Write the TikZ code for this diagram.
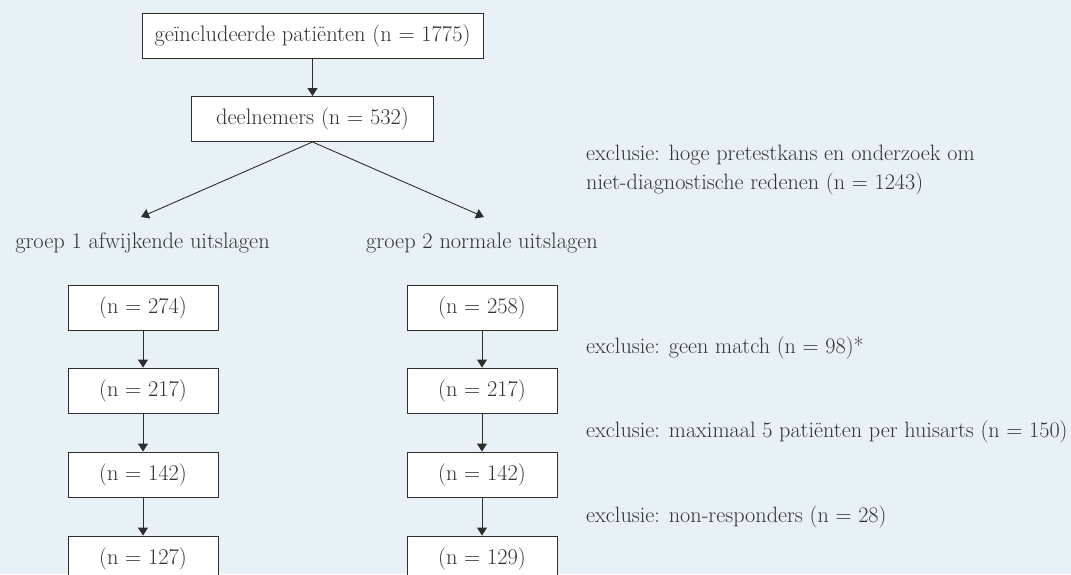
\documentclass[tikz,border=0pt]{standalone}
\usetikzlibrary{arrows.meta}
\definecolor{bg}{HTML}{E8F1F5}
\definecolor{ink}{HTML}{2E2E2E}
\definecolor{txt}{HTML}{333333}
\tikzset{
  x=1pt,y=-1pt,
  box/.style={draw=ink,fill=white,line width=0.9pt,minimum height=45pt,inner sep=0pt,text=txt,font=\fontsize{22.4}{26}\selectfont},
  lbl/.style={anchor=base west,inner sep=0pt,text=txt,font=\fontsize{22.2}{26}\selectfont},
  clbl/.style={anchor=base,inner sep=0pt,text=txt,font=\fontsize{22.4}{26}\selectfont},
  arr/.style={draw=ink,line width=0.9pt,-{Triangle[length=8pt,width=10pt]}}
}
\begin{document}
\begin{tikzpicture}
\useasboundingbox (0,0) rectangle (1071,574);
\clip (0,0) rectangle (1071,574);
\fill[bg] (0,0) rectangle (1071,574);
\node[box,minimum width=341pt] (top) at (312.5,35.5) {geïncludeerde patiënten (n = 1775)};
\node[box,minimum width=242pt] (deel) at (312.5,119) {deelnemers (n = 532)};
\draw[arr] (top) -- (deel);
\coordinate (g1tip) at (141,217);
\coordinate (g2tip) at (484,217);
\draw[arr] (deel.south) -- (g1tip);
\draw[arr] (deel.south) -- (g2tip);
\node[clbl] (g1) at (142.5,248) {groep 1 afwijkende uitslagen};
\node[clbl] (g2) at (482,248) {groep 2 normale uitslagen};
\node[lbl] (ex1) at (586,160) {exclusie: hoge pretestkans en onderzoek om};
\node[lbl] (ex1b) at (586,189) {niet-diagnostische redenen (n = 1243)};
\node[lbl] (ex2) at (586,353) {exclusie: geen match (n = 98)*};
\node[lbl] (ex3) at (586,437) {exclusie: maximaal 5 patiënten per huisarts (n = 150)};
\node[lbl] (ex4) at (586,522) {exclusie: non-responders (n = 28)};
% left column
\node[box,minimum width=150pt] (a1) at (143,307.5) {(n = 274)};
\node[box,minimum width=150pt] (a2) at (143,390.5) {(n = 217)};
\node[box,minimum width=150pt] (a3) at (143,474.5) {(n = 142)};
\node[box,minimum width=150pt] (a4) at (143,558.5) {(n = 127)};
% right column
\node[box,minimum width=150pt] (b1) at (482,307.5) {(n = 258)};
\node[box,minimum width=150pt] (b2) at (482,390.5) {(n = 217)};
\node[box,minimum width=150pt] (b3) at (482,474.5) {(n = 142)};
\node[box,minimum width=150pt] (b4) at (482,558.5) {(n = 129)};
\draw[arr] (a1) -- (a2);
\draw[arr] (a2) -- (a3);
\draw[arr] (a3) -- (a4);
\draw[arr] (b1) -- (b2);
\draw[arr] (b2) -- (b3);
\draw[arr] (b3) -- (b4);
\end{tikzpicture}
\end{document}
